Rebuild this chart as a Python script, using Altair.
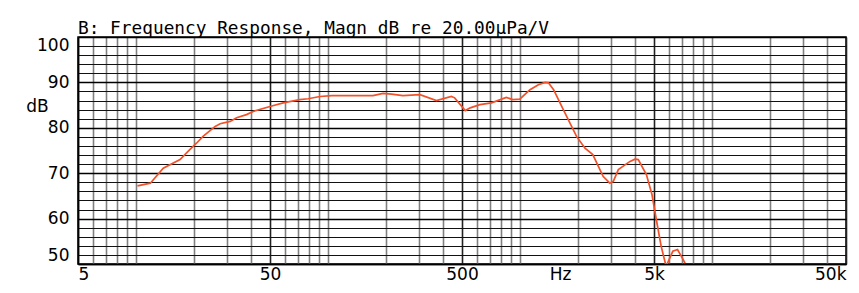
import altair as alt
import pandas as pd

# Frequency response data (Hz, dB)
freq = [10.2, 11.9, 13.9, 17.0, 19.1, 20.7, 22.4, 25.9, 27.5, 31, 33.5, 37.7, 40.9, 50,
        58.6, 71.4, 79, 91, 105, 140, 172, 194, 215, 246, 302, 368, 440, 458, 520, 552,
        620, 712, 850, 920, 1000, 1130, 1250, 1355, 1410, 1500, 1685, 1975, 2185, 2400,
        2715, 2945, 3070, 3260, 3750, 3980, 4140, 4565, 4880, 5140, 5450, 5780, 6265,
        6630, 7260]
magn = [67.2, 67.8, 71.1, 73.0, 75.2, 76.6, 78.1, 80.3, 80.9, 81.4, 82.2, 82.9, 83.6, 84.7,
        85.5, 86.2, 86.4, 86.9, 87.1, 87.1, 87.1, 87.6, 87.4, 87.1, 87.3, 86.0, 86.9, 86.6,
        83.8, 84.4, 85.1, 85.5, 86.7, 86.2, 86.3, 88.4, 89.5, 90.0, 89.9, 88.4, 84.0, 78.1,
        75.5, 74.1, 69.3, 67.8, 68.2, 70.8, 72.6, 73.1, 73.0, 69.7, 65.3, 59.8, 53.9, 49.5,
        52.8, 53.2, 50.2]

# Grid / tick values
x_grid = [5, 6, 7, 8, 9, 10, 20, 30, 40, 50, 60, 70, 80, 90, 100, 200, 300, 400, 500,
          600, 700, 800, 900, 1000, 2000, 3000, 4000, 5000, 6000, 7000, 8000, 9000,
          10000, 20000, 30000, 40000, 50000]
x_labels = {5: "5", 50: "50", 500: "500", 5000: "5k", 50000: "50k"}
y_grid = list(range(50, 101, 2))

title_text = "B: Frequency Response, Magn dB re 20.00\u00b5Pa/V"

df = pd.DataFrame({"freq": freq, "magn": magn})

label_expr = " : ".join(
    f"datum.value == {k} ? '{v}'" for k, v in x_labels.items()
) + " : ''"

x_axis = alt.Axis(
    values=x_grid,
    labelExpr=label_expr,
    labelOverlap=False,
    labelFlush=True,
    labelFont="DejaVu Sans",
    labelFontSize=17,
    labelColor="black",
    labelPadding=2,
    ticks=False,
    domain=True,
    domainColor="black",
    domainWidth=1.5,
    grid=True,
    gridColor={"condition": {"test": "indexof([5,50,500,5000,50000], datum.value) >= 0",
                             "value": "#222222"}, "value": "#808080"},
    gridWidth=1.6,
    gridOpacity=1,
    title="Hz",
    titleFont="DejaVu Sans",
    titleFontSize=17,
    titleFontWeight="normal",
    titleColor="black",
    titleX=482,
    titleY=10,
    titleAlign="center",
    titleBaseline="middle",
)

y_axis = alt.Axis(
    values=y_grid,
    labelExpr="datum.value % 10 == 0 ? datum.label : ''",
    labelOverlap=False,
    labelFlush=True,
    labelFont="DejaVu Sans",
    labelFontSize=17,
    labelColor="black",
    labelPadding=9,
    ticks=False,
    domain=True,
    domainColor="black",
    domainWidth=1.5,
    grid=True,
    gridColor={"condition": {"test": "datum.value % 10 == 0", "value": "#000000"},
               "value": "#111111"},
    gridWidth={"condition": {"test": "datum.value % 10 == 0", "value": 1.7},
               "value": 1.1},
    gridOpacity=1,
    title="dB",
    titleAngle=0,
    titleFont="DejaVu Sans",
    titleFontSize=17,
    titleFontWeight="normal",
    titleColor="black",
    titleX=-41,
    titleY=69,
    titleAlign="center",
    titleBaseline="middle",
)

chart = (
    alt.Chart(df)
    .mark_line(clip=True, color="#F2522A", strokeWidth=1.7)
    .encode(
        x=alt.X("freq:Q", scale=alt.Scale(type="log", domain=[5, 50000], nice=False),
                axis=x_axis),
        y=alt.Y("magn:Q", scale=alt.Scale(domain=[50, 100], nice=False, zero=False),
                axis=y_axis),
    )
    .properties(
        width=768,
        height=227,
        title=alt.TitleParams(
            text=title_text,
            anchor="start",
            frame="group",
            font="DejaVu Sans Mono",
            fontSize=17.8,
            fontWeight="normal",
            color="black",
            baseline="alphabetic",
            offset=4,
            dy=20,
        ),
        autosize=alt.AutoSizeParams(type="none"),
        padding={"left": 70, "top": 29, "right": 5, "bottom": 20},
        background="white",
    )
    .configure_view(stroke="black", strokeWidth=1.5)
)

chart.save("out.html", embed_options={"renderer": "svg", "actions": False})
